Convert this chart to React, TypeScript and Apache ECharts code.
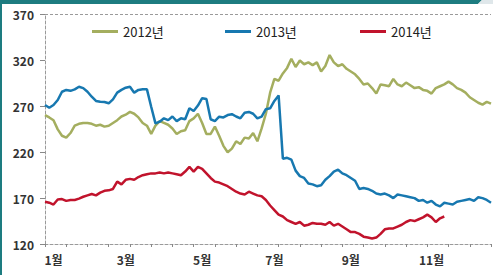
import React, { useEffect, useRef } from "react";
import * as echarts from "echarts";

const dayIndex: string[] = Array.from({ length: 106 }, (_, i) => String(i));
const monthLabels = ["1월", "3월", "5월", "7월", "9월", "11월"];
const monthIdx = [2, 19, 37, 54, 72, 91];
const yTicks = { min: 120, max: 370, interval: 50 };
const seriesNames = ["2012년", "2013년", "2014년"];

const s2012 = [
  260.6, 258, 255, 245, 238, 236, 241, 249, 251, 252, 252, 251, 249, 250, 248, 249, 252, 255, 259, 261,
  264, 262, 258, 252, 249, 240, 249, 254, 252, 250, 246, 240, 243, 244, 254, 257, 262, 252, 240, 240,
  248, 238, 227, 220, 224, 232, 229, 236, 235, 241, 232, 246, 262, 285, 300, 298, 306, 312, 322, 313,
  320, 316, 318, 315, 318, 308, 314, 326, 318, 314, 316, 311, 308, 305, 300, 294, 295, 290, 284, 294,
  293, 292, 300, 294, 292, 296, 293, 290, 291, 288, 287, 284, 290, 292, 294, 297, 294, 290, 288, 285,
  280, 277, 274, 272, 275, 273,
];

const s2013 = [
  271.5, 268.6, 271.5, 277, 286, 288, 287, 288.6, 291.5, 290, 286, 280.6, 276, 275, 274.8, 273.4, 277.7, 285, 288, 290.4,
  291.5, 285, 288, 288.6, 288.6, 269.7, 251.5, 253.4, 257, 255, 259, 254, 257, 256, 268, 265, 271, 279, 278, 256,
  254, 258.8, 258, 260.6, 261.5, 259, 257, 263, 264, 262, 257, 258.8, 267, 268, 276, 282, 213, 214, 212, 200,
  194, 192, 186, 185, 183, 184, 190, 194, 199, 201, 197, 195, 192, 189, 180, 181, 180, 178, 175, 174,
  175, 173, 170, 174, 173, 172, 171, 170, 167, 168, 165, 167, 163, 161, 165, 164, 163, 166, 167, 168,
  169, 167, 171, 170, 168, 165,
];

const s2014 = [
  166, 165, 163, 168.5, 169, 167, 168, 168, 169.5, 171.5, 173, 174.5, 173, 176, 178, 178.5, 180, 188, 185, 190,
  191, 190, 193, 195, 196, 197, 197, 198, 197, 198, 197, 196, 195, 199, 204, 199, 204, 202, 197, 192,
  188, 187, 185, 183, 180, 177, 175, 174, 177, 175, 173, 172, 168, 162, 157, 152, 150, 146, 144, 142,
  144, 140, 141, 143, 142, 142, 141, 144, 140, 142, 139, 136, 133, 133, 131, 128, 127, 126, 127, 131,
  136, 137, 137, 139, 141, 144, 146, 145, 147, 149, 152, 149, 144, 148, 150,
];

const colors = ["#a4ae5f", "#1778b0", "#c1132c"];
const FONT = "'Noto Sans CJK KR', 'Noto Sans', sans-serif";

export default function App() {
  const ref = useRef<HTMLDivElement>(null);
  useEffect(() => {
    if (!ref.current) return;
    const chart = echarts.init(ref.current, null, { renderer: "svg" });
    const legendBase = {
      top: 25,
      padding: 0,
      icon: "rect",
      itemWidth: 26,
      itemHeight: 3,
      textStyle: { fontSize: 13, color: "#222", fontFamily: FONT },
    };
    chart.setOption({
      animation: false,
      backgroundColor: "#fff",
      color: colors,
      grid: { left: 45, right: 2, top: 14.7, bottom: 31, containLabel: false },
      legend: [
        { ...legendBase, left: 92, data: [seriesNames[0]] },
        { ...legendBase, left: 225, data: [seriesNames[1]] },
        { ...legendBase, left: 360, data: [seriesNames[2]] },
      ],
      xAxis: {
        type: "category",
        data: dayIndex,
        boundaryGap: false,
        axisLine: { lineStyle: { color: "#9a9a9a", type: [3, 2], width: 1 } },
        axisTick: { show: true, interval: 4, length: 3, lineStyle: { color: "#888" } },
        axisLabel: {
          interval: (index: number) => monthIdx.includes(index),
          formatter: (_v: string, index: number) => {
            const k = monthIdx.indexOf(index);
            return k >= 0 ? monthLabels[k] : "";
          },
          margin: 9,
          fontSize: 12,
          fontWeight: "bold",
          color: "#333",
          fontFamily: FONT,
        },
        splitLine: { show: false },
      },
      yAxis: {
        type: "value",
        min: yTicks.min,
        max: yTicks.max,
        interval: yTicks.interval,
        axisLine: { show: true, lineStyle: { color: "#9a9a9a", type: [3, 2], width: 1 } },
        axisTick: { show: true, length: 5, lineStyle: { color: "#888" } },
        axisLabel: { margin: 11, fontSize: 12, fontWeight: "bold", color: "#333", fontFamily: FONT },
        splitLine: { show: false },
      },
      series: [
        {
          name: seriesNames[0],
          type: "line",
          data: s2012,
          symbol: "none",
          lineStyle: { width: 2.5, color: colors[0] },
          markLine: {
            silent: true,
            symbol: "none",
            label: { show: false },
            lineStyle: { color: "#9a9a9a", type: [3, 2], width: 1 },
            data: [{ yAxis: yTicks.max }],
          },
        },
        { name: seriesNames[1], type: "line", data: s2013, symbol: "none", lineStyle: { width: 2.5, color: colors[1] } },
        { name: seriesNames[2], type: "line", data: s2014, symbol: "none", lineStyle: { width: 2.5, color: colors[2] } },
      ],
      graphic: [
        { type: "polygon", shape: { points: [[0, 0], [482, 0], [478, 4], [0, 4]] }, style: { fill: "#1d7c80" } },
        { type: "polygon", shape: { points: [[482, 0], [493, 0], [493, 4], [478, 4]] }, style: { fill: "#dfe7ea" } },
        { type: "rect", shape: { x: 0, y: 0, width: 2, height: 275 }, style: { fill: "#1d7c80" } },
      ],
    });
    return () => chart.dispose();
  }, []);
  return (
    <div
      ref={ref}
      style={{ position: "fixed", left: 0, top: 0, width: 493, height: 275, background: "#fff" }}
    />
  );
}
